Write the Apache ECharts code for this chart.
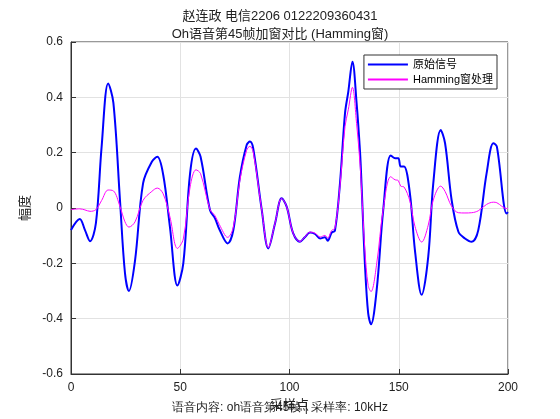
<!doctype html>
<html lang="zh">
<head>
    <meta charset="UTF-8">
    <title>Hamming窗</title>
    <script src="https://cdn.jsdelivr.net/npm/echarts@6/dist/echarts.min.js"></script>
    <style>
        html, body {margin: 0; padding: 0; background: #fff;}
        #main {width: 560px; height: 419px;}
    </style>
</head>
<body>
<div id="main"></div>
<script type="text/javascript">
    // 采样点位置
    var samples = [0, 4, 6.4, 8.7, 11.4, 14, 17, 19.4, 22.4, 24.7, 26.5, 29.3, 33, 37, 39.5, 42.2, 45.3, 48.7, 51.4,
        54.5, 57.2, 59.3, 63.6, 65.9, 67.9, 71.7, 74.3, 77.3, 80.4, 81.9, 83.4, 87.3, 90.3, 93.4, 96.4, 98.7,
        101.7, 104.8, 107, 109.4, 111.7, 114, 116.2, 117.5, 119.3, 120.8, 123.1, 125.4, 126.9, 128.8, 130.7,
        132.3, 133, 134.5, 136, 137.3, 139.9, 142.9, 146.3, 148.3, 149.8, 150.9, 152.4, 155.1, 157.4, 160.5,
        163.5, 165.8, 169.2, 171.2, 174.2, 177.3, 180.3, 183.4, 186.4, 190.2, 193.3, 194.9, 199.4, 200];
    // 原始信号
    var original = [-0.08, -0.04, -0.08, -0.12, -0.055, 0.22, 0.45, 0.38, 0.03, -0.235, -0.30, -0.19, 0.09, 0.167, 0.185,
        0.12, -0.07, -0.28, -0.2, 0.125, 0.215, 0.185, -0.007, -0.037, -0.077, -0.128, -0.08, 0.113, 0.228, 0.24,
        0.215, -0.007, -0.146, -0.055, 0.035, 0.005, -0.092, -0.122, -0.106, -0.089, -0.094, -0.11, -0.106,
        -0.118, -0.089, -0.082, 0.089, 0.342, 0.42, 0.529, 0.38, 0.2, 0.08, -0.2, -0.38, -0.42, -0.296, -0.007,
        0.19, 0.18, 0.18, 0.15, 0.15, 0.053, -0.152, -0.314, -0.176, 0.089, 0.282, 0.234, 0.029, -0.086, -0.11,
        -0.122, -0.08, 0.125, 0.234, 0.222, -0.02, -0.015];
    // Hamming窗处理后
    var windowed = [-0.006, -0.003, -0.007, -0.012, -0.006, 0.027, 0.065, 0.062, 0.006, -0.05, -0.069, -0.05, 0.028,
        0.06, 0.072, 0.051, -0.033, -0.146, -0.112, 0.076, 0.138, 0.124, -0.005, -0.028, -0.06, -0.106, -0.069,
        0.1, 0.209, 0.223, 0.202, -0.007, -0.143, -0.054, 0.035, 0.005, -0.092, -0.121, -0.105, -0.087, -0.091,
        -0.105, -0.099, -0.109, -0.081, -0.073, 0.079, 0.294, 0.355, 0.436, 0.305, 0.157, 0.062, -0.151, -0.28,
        -0.302, -0.202, -0.004, 0.113, 0.102, 0.099, 0.079, 0.076, 0.025, -0.066, -0.123, -0.062, 0.029, 0.079,
        0.06, 0.006, -0.017, -0.018, -0.017, -0.01, 0.013, 0.021, 0.019, -0.002, -0.001];

    function pairs(ys) {
        var out = [];
        for (var i = 0; i < samples.length; i++) {
            out.push([samples[i], ys[i]]);
        }
        return out;
    }

    var myChart = echarts.init(document.getElementById('main'));
    var font = "'Liberation Sans', 'Noto Sans CJK SC', sans-serif";

    option = {
        animation: false,
        textStyle: {fontFamily: font},
        title: {
            text: '赵连政 电信2206 0122209360431\nOh语音第45帧加窗对比 (Hamming窗)',
            left: 'center',
            top: 2,
            textStyle: {fontSize: 13, fontWeight: 'normal', color: '#222', lineHeight: 18, fontFamily: font}
        },
        graphic: [{
            type: 'text',
            left: 'center',
            top: 402,
            style: {text: '语音内容: oh语音第45帧 | 采样率: 10kHz', fontSize: 12, fill: '#222', font: '12px ' + font}
        }],
        legend: {
            right: 63,
            top: 55,
            orient: 'vertical',
            itemWidth: 40,
            itemHeight: 2,
            itemGap: 4,
            padding: [4, 4],
            borderColor: '#333',
            borderWidth: 1,
            backgroundColor: '#fff',
            textStyle: {fontSize: 11, color: '#000', fontFamily: font},
            data: [
                {name: '原始信号', icon: 'rect'},
                {name: 'Hamming窗处理', icon: 'rect'}
            ]
        },
        grid: {
            left: 71, right: 52, top: 42, bottom: 45,
            show: true, borderColor: '#333', borderWidth: 1
        },
        xAxis: {
            type: 'value', min: 0, max: 200, interval: 50,
            name: '采样点', nameLocation: 'middle', nameGap: 4,
            nameTextStyle: {fontSize: 13, color: '#222', verticalAlign: 'top', padding: [6, 0, 0, 0]},
            axisLine: {onZero: false, lineStyle: {color: '#333'}},
            axisTick: {inside: true, length: 5, lineStyle: {color: '#333'}},
            axisLabel: {color: '#222', fontSize: 12, margin: 8},
            splitLine: {lineStyle: {color: '#e2e2e2'}}
        },
        yAxis: {
            type: 'value', min: -0.6, max: 0.6, interval: 0.2,
            name: '幅度', nameLocation: 'middle', nameGap: 24,
            nameTextStyle: {fontSize: 13, color: '#222'},
            axisLine: {show: true, onZero: false, lineStyle: {color: '#333'}},
            axisTick: {show: true, inside: true, length: 5, lineStyle: {color: '#333'}},
            axisLabel: {
                color: '#222', fontSize: 12, margin: 8,
                formatter: function (v) { return Math.abs(v) < 1e-9 ? '0' : String(+v.toFixed(1)); }
            },
            splitLine: {lineStyle: {color: '#e2e2e2'}}
        },
        series: [
            {
                name: '原始信号', type: 'line', data: pairs(original),
                smooth: 0.35, showSymbol: false,
                lineStyle: {color: '#0000ff', width: 2}, itemStyle: {color: '#0000ff'}
            },
            {
                name: 'Hamming窗处理', type: 'line', data: pairs(windowed),
                smooth: 0.35, showSymbol: false,
                lineStyle: {color: '#ff00ff', width: 1}, itemStyle: {color: '#ff00ff'}
            }
        ]
    };

    myChart.setOption(option);
</script>
</body>
</html>
